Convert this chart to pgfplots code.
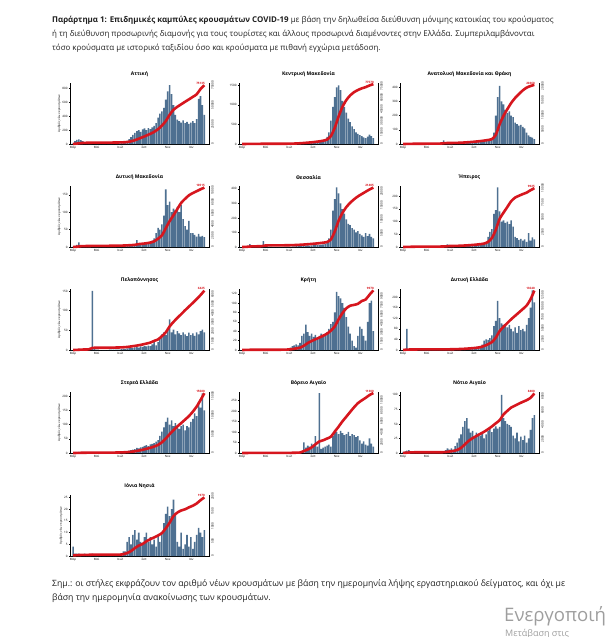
\documentclass[border=0pt]{standalone}
\usepackage{fontspec}
\setmainfont{Open Sans}
\usepackage{pgfplots}
\pgfplotsset{compat=1.18}
\usepackage{pgfplotstable}

\definecolor{barblue}{RGB}{78,112,145}
\definecolor{cumred}{RGB}{214,22,30}

% daily new cases, 5-day bins (day 0 = 1 March 2020)
\pgfplotstableread{
d   att  kma  amt  dma  the  ipe  pel  kri  del  ste  vai  nai  ion
-5  0    0    0    0    0    0    0    0    0    0    0    0    0
0   10   0    0    1    0    0    0    0    0    0    0    2    4
5   40   3    2    3    3    1    1    1    2    1    0    3    1
10  60   8    3    6    5    2    2    2    80   3    1    4    1
15  65   10   4    13   8    2    3    2    3    4    1    5    1
20  55   8    3    5    20   2    2    2    1    3    1    3    0
25  40   6    2    3    6    2    2    1    1    2    1    2    0
30  25   5    2    2    4    1    1    1    1    2    0    1    1
35  15   4    1    2    3    1    1    1    1    1    0    1    0
40  10   3    1    1    3    1    1    0    1    1    1    0    0
45  8    3    1    1    2    1    2    0    1    1    0    0    0
50  6    2    1    1    5    0    150  0    0    1    0    0    1
55  5    2    1    1    40   0    2    0    0    0    0    0    0
60  4    2    0    0    8    0    1    0    0    0    0    0    0
65  3    1    0    0    4    0    1    0    0    0    0    0    0
70  3    1    0    0    2    0    0    0    0    0    0    0    0
75  2    1    1    0    2    0    0    0    0    0    0    0    0
80  2    1    1    1    1    0    0    0    0    0    0    0    0
85  3    1    1    1    1    0    0    0    0    0    0    0    0
90  3    1    1    1    1    1    0    0    0    0    0    0    0
95  4    1    2    1    1    1    1    0    0    1    0    0    0
100 5    2    8    1    1    1    1    0    1    1    0    0    0
105 5    2    25   1    1    2    1    1    1    1    0    2    0
110 7    3    4    1    2    3    1    1    1    2    0    5    0
115 8    4    2    1    2    10   1    2    1    2    0    8    0
120 10   5    2    1    2    2    1    3    1    3    1    6    0
125 14   8    2    2    3    1    2    5    2    3    1    8    1
130 20   12   3    2    4    1    2    8    2    4    1    6    2
135 30   15   3    3    5    2    3    10   2    5    2    12   2
140 45   20   4    3    6    2    4    12   3    6    2    18   6
145 70   25   5    4    7    2    5    10   3    8    3    25   8
150 100  30   6    4    8    3    6    15   4    10   3    32   5
155 130  35   7    5    8    3    5    30   4    12   5    45   9
160 160  40   8    6    10   4    7    35   5    14   50   55   11
165 185  40   9    20   10   4    8    54   6    18   25   60   7
170 200  45   10   6    11   4    6    38   6    16   35   42   10
175 175  40   10   6    10   5    9    30   7    20   30   35   6
180 210  50   12   7    12   5    8    35   8    22   45   38   5
185 225  55   12   8    13   6    10   28   9    25   40   28   8
190 200  55   13   9    14   6    9    32   10   28   80   35   10
195 230  60   14   10   14   7    11   25   12   24   30   30   6
200 215  70   15   14   15   8    10   30   15   30   285  30   8
205 240  80   16   18   16   9    14   35   20   32   20   35   5
210 260  95   18   25   18   12   23   28   35   35   25   25   7
215 300  120  20   40   20   15   12   32   40   40   30   32   4
220 380  180  22   55   30   40   20   38   38   45   35   38   9
225 440  300  25   50   60   60   30   45   45   60   40   42   6
230 470  600  35   65   120  70   40   55   55   75   30   36   10
235 520  950  80   90   250  130  45   60   90   90   80   42   14
240 640  1200 200  165  330  145  38   80   110  110  110  46   18
245 760  1450 330  120  410  235  50   124  185  125  100  42   21
250 850  1500 410  130  370  140  78   115  120  100  90   45   17
255 720  1380 300  100  300  100  45   110  100  115  105  100  20
260 560  1100 280  110  260  105  52   100  95   95   95   60   24
265 420  950  240  105  230  95   40   90   90   105  85   55   18
270 350  800  220  115  190  100  48   70   85   90   90   50   6
275 330  650  230  100  160  90   42   50   95   85   100  48   4
280 310  560  200  120  150  105  38   35   80   95   80   45   10
285 340  450  190  80   130  80   45   20   70   100  90   30   3
290 300  380  150  60   120  40   40   8    85   80   85   25   5
295 320  300  140  50   100  35   35   5    65   95   75   35   9
300 290  260  130  75   110  28   44   30   90   90   80   20   4
305 310  230  135  40   90   32   38   50   75   110  60   28   8
310 330  200  120  40   80   25   42   45   80   120  45   22   3
315 300  170  110  35   70   30   36   30   70   140  55   30   6
320 360  150  80   30   95   20   45   20   95   130  40   18   9
325 650  190  60   38   75   55   40   60   120  180  35   25   12
330 690  240  50   30   90   25   48   100  160  160  70   40   10
335 560  200  45   32   70   38   52   105  225  210  45   60   8
340 420  150  35   28   60   30   45   40   180  150  30   65   11
}\bars

% cumulative cases, every 10 days
\pgfplotstableread{
d   att   kma   amt   dma   the   ipe   pel   kri   del   ste   vai   nai   ion
0   50    0     0     5     0     0     0     0     0     0     0     10    20
10  550   55    25    50    40    15    15    15    90    20    5     45    30
20  1150  145   60    140   180   35    40    35    110   55    15    85    35
30  1475  200   80    165   230   50    55    45    120   75    20    100   40
40  1600  235   90    180   260   60    65    50    130   85    25    105   40
50  1670  260   100   190   295   65    225   50    135   95    25    105   45
60  1715  280   105   195   535   65    240   50    135   95    25    105   45
70  1745  290   105   195   565   65    245   50    135   95    25    105   45
80  1765  300   115   200   580   65    245   50    135   95    25    105   45
90  1795  310   125   210   590   70    245   50    135   95    25    105   45
100 1840  325   175   220   600   80    255   50    140   105   25    105   45
110 1900  350   320   230   615   105   265   60    150   120   25    140   45
120 1990  395   340   240   635   165   275   85    160   145   30    210   45
130 2160  495   365   260   670   175   295   150   180   180   40    280   60
140 2535  670   400   290   725   195   330   260   205   235   60    430   100
150 3385  945   455   330   800   220   385   385   240   325   90    715   165
160 4835  1320  530   385   890   255   445   710   285   455   365   1215  265
170 6760  1745  625   515   995   295   515   1170  345   625   665   1725  350
180 8685  2195  735   580   1105  345   600   1495  420   835   1040  2090  405
190 10810 2745  860   665   1240  405   695   1795  515   1100  1640  2405  495
200 13035 3395  1005  785   1385  480   800   2070  650   1370  2175  2705  565
210 15535 4270  1175  1000  1555  585   985   2385  925   1705  2400  3005  625
220 18935 5770  1385  1475  1805  860   1145  2735  1315  2130  2725  3355  690
230 23485 10270 1685  2050  2705  1510  1495  3235  1815  2805  3075  3745  770
240 29285 21020 3085  3325  5605  2885  1910  3935  2815  3805  4025  4185  930
250 37335 35770 6785  4575  9505  4760  2550  5130  4340  4930  4975  4620  1120
260 43735 48170 9685  5625  12305 5785  3035  6180  5315  5980  5975  5420  1340
270 47585 56920 11985 6725  14405 6760  3475  6980  6190  6955  6850  5945  1460
280 50785 62970 14135 7825  15955 7735  3875  7405  7065  7855  7750  6410  1530
290 53985 67120 15835 8525  17205 8335  4300  7545  7840  8755  8625  6685  1570
300 57035 69920 17185 9150  18255 8650  4695  7720  8615  9680  9400  6960  1635
310 60235 72070 18460 9550  19105 8935  5095  8195  9390  10830 9925  7210  1690
320 63535 73670 19410 9875  19930 9185  5500  8445  10215 12180 10400 7450  1765
330 70235 75820 19960 10215 20755 9585  5940  9245  11615 13880 10925 7775  1875
340 75135 77570 20360 10515 21405 9925  6425  9970  13640 15680 11300 8400  1970
}\cum

\pgfplotsset{
  panelbase/.style={
    scale only axis, width=139pt, height=61pt,
    xmin=-8, xmax=352, ymin=0,
    tick align=outside, major tick length=1.2pt,
    tick style={black, line width=0.3pt},
    axis line style={black, line width=0.6pt},
    tick label style={font=\fontsize{3}{3.5}\selectfont, inner sep=1pt},
    /pgf/number format/assume math mode=true,
    /pgf/number format/1000 sep={},
    scaled y ticks=false,
  },
  ylab/.style={ylabel={Αριθμός νέων κρουσμάτων},
    ylabel style={font=\fontsize{3}{3.5}\selectfont, yshift=-3pt}},
}

% #1 left, #2 top (pt), #3 title, #4 column, #5 left axis, #6 right axis, #7 last total
\newcommand{\panel}[7]{%
  \begin{axis}[panelbase, at={(#1pt,-#2pt)}, anchor=north west,
      axis x line*=bottom, axis y line*=left,
      xtick={0,61,122,184,245,306},
      xticklabels={Μαρ,Μαϊ,Ιουλ,Σεπ,Νοε,Ιαν},
      title={#3},
      title style={font=\bfseries\fontsize{5}{6}\selectfont, yshift=-3.5pt},
      #5]
    \addplot[ybar, bar width=4, fill=barblue, draw=none] table[x=d, y=#4] {\bars};
  \end{axis}
  \begin{axis}[panelbase, at={(#1pt,-#2pt)}, anchor=north west,
      axis x line=none, axis y line*=right, clip=false,
      yticklabel style={rotate=90, anchor=north},
      #6]
    \addplot[cumred, line width=2.6pt, smooth, tension=0.4] table[x=d, y=#4] {\cum};
    \node[text=cumred, font=\bfseries\fontsize{3}{3}\selectfont, anchor=south east, inner sep=0.5pt]
      at (axis cs:343,#7) {#7};
  \end{axis}%
}

\begin{document}
\begin{tikzpicture}
\useasboundingbox (0,0) rectangle (608pt,-637pt);

\node[anchor=north west, align=left, inner sep=0pt, text=black!88,
  font=\fontsize{7.95}{14}\selectfont] at (52pt,-15.5pt)
  {\textbf{Παράρτημα 1: Επιδημικές καμπύλες κρουσμάτων COVID-19} με βάση την δηλωθείσα διεύθυνση μόνιμης κατοικίας του κρούσματος\\
   ή τη διεύθυνση προσωρινής διαμονής για τους τουρίστες και άλλους προσωρινά διαμένοντες στην Ελλάδα. Συμπεριλαμβάνονται\\
   τόσο κρούσματα με ιστορικό ταξιδίου όσο και κρούσματα με πιθανή εγχώρια μετάδοση.};

\panel{70}{83}{Αττική}{att}{ymax=880, ytick={0,200,400,600,800}, ylab}{ymax=78000, ytick={0,25000,50000,75000}}{75135}
\panel{239}{83}{Κεντρική Μακεδονία}{kma}{ymax=1560, ytick={0,500,1000,1500}}{ymax=79000, ytick={0,15000,30000,45000,60000,75000}}{77570}
\panel{400}{83}{Ανατολική Μακεδονία και Θράκη}{amt}{ymax=430, ytick={0,100,200,300,400}}{ymax=21000, ytick={0,5000,10000,15000,20000}}{20360}

\panel{70}{186}{Δυτική Μακεδονία}{dma}{ymax=175, ytick={0,50,100,150}, ylab}{ymax=10800, ytick={0,2000,4000,6000,8000,10000}}{10515}
\panel{239}{186}{Θεσσαλία}{the}{ymax=420, ytick={0,100,200,300,400}}{ymax=22000, ytick={0,5000,10000,15000,20000}}{21405}
\panel{400}{186}{Ήπειρος}{ipe}{ymax=240, ytick={0,50,100,150,200}}{ymax=10300, ytick={0,2500,5000,7500,10000}}{9925}

\panel{70}{289}{Πελοπόννησος}{pel}{ymax=155, ytick={0,50,100,150}, ylab}{ymax=6600, ytick={0,1000,2000,3000,4000,5000,6000}}{6425}
\panel{239}{289}{Κρήτη}{kri}{ymax=130, ytick={0,20,40,60,80,100,120}}{ymax=10200, ytick={0,1500,3000,4500,6000,7500,9000}}{9970}
\panel{400}{289}{Δυτική Ελλάδα}{del}{ymax=230, ytick={0,40,80,120,160,200}}{ymax=14000, ytick={0,2500,5000,7500,10000,12500}}{13640}

\panel{70}{392}{Στερεά Ελλάδα}{ste}{ymax=215, ytick={0,50,100,150,200}, ylab}{ymax=16000, ytick={0,5000,10000,15000}}{15680}
\panel{239}{392}{Βόρειο Αιγαίο}{vai}{ymax=290, ytick={0,50,100,150,200,250}}{ymax=11500, ytick={0,2000,4000,6000,8000,10000}}{11300}
\panel{400}{392}{Νότιο Αιγαίο}{nai}{ymax=105, ytick={0,25,50,75,100}}{ymax=8600, ytick={0,2000,4000,6000,8000}}{8400}

\panel{70}{495}{Ιόνια Νησιά}{ion}{ymax=26, ytick={0,5,10,15,20,25}, ylab}{ymax=2050, ytick={0,500,1000,1500,2000}}{1970}

\node[anchor=north west, align=left, inner sep=0pt, text=black!88,
  font=\fontsize{8.65}{13.5}\selectfont] at (52pt,-579.5pt)
  {Σημ.: οι στήλες εκφράζουν τον αριθμό νέων κρουσμάτων με βάση την ημερομηνία λήψης εργαστηριακού δείγματος, και όχι με\\
   βάση την ημερομηνία ανακοίνωσης των κρουσμάτων.};

\node[anchor=base west, inner sep=0pt, text=black!38, font=\fontsize{18.6}{19}\selectfont]
  at (504pt,-621pt) {Ενεργοποιή};
\node[anchor=base west, inner sep=0pt, text=black!38, font=\fontsize{9}{9}\selectfont]
  at (505pt,-636pt) {Μετάβαση στις};
\end{tikzpicture}
\end{document}
